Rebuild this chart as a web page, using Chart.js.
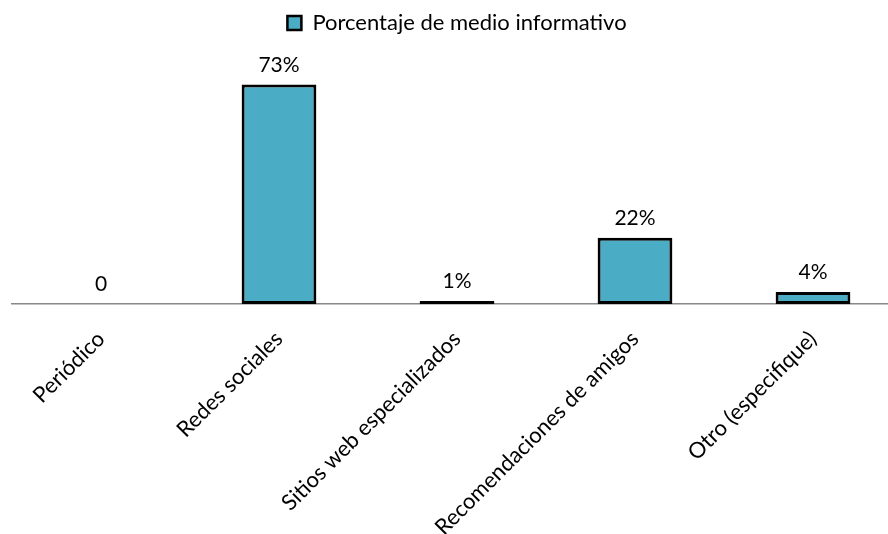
<!DOCTYPE html>
<html>
<head>
<meta charset="utf-8">
<script src="https://cdn.jsdelivr.net/npm/chart.js@4/dist/chart.umd.min.js"></script>
<style>
  html, body { margin: 0; padding: 0; background: #fff; overflow: hidden; }
  #wrap { position: relative; width: 902px; height: 534px; }
</style>
</head>
<body>
<div id="wrap"><canvas id="c"></canvas></div>
<script>
// Media used to find out about the offer
const categories = ['Periódico', 'Redes sociales', 'Sitios web especializados', 'Recomendaciones de amigos', 'Otro (especifique)'];
const seriesName = 'Porcentaje de medio informativo';
const percentages = [0, 73, 1, 22, 4];
const valueLabels = ['0', '73%', '1%', '22%', '4%'];

const FONT = "Lato, 'Open Sans', sans-serif";
const TEAL = '#4BACC6';

// Writes each value above its bar
const valueLabelPlugin = {
  id: 'valueLabels',
  afterDatasetsDraw(chart) {
    const ctx = chart.ctx;
    const meta = chart.getDatasetMeta(0);
    ctx.save();
    ctx.font = '21px ' + FONT;
    ctx.fillStyle = '#000';
    ctx.textAlign = 'center';
    ctx.textBaseline = 'alphabetic';
    meta.data.forEach((bar, i) => {
      ctx.fillText(valueLabels[i], bar.x, bar.y - 13);
    });
    ctx.restore();
  }
};

new Chart(document.getElementById('c'), {
  type: 'bar',
  data: {
    labels: categories,
    datasets: [{
      label: seriesName,
      data: percentages,
      backgroundColor: TEAL,
      borderColor: '#000',
      borderWidth: 3,
      borderSkipped: false,
      categoryPercentage: 1,
      barPercentage: 0.42
    }]
  },
  options: {
    responsive: true,
    maintainAspectRatio: false,
    animation: false,
    layout: { padding: { left: 12, right: 0, top: 6, bottom: 0 } },
    plugins: {
      legend: {
        display: true,
        position: 'top',
        labels: {
          boxWidth: 14,
          boxHeight: 14,
          padding: 6,
          color: '#000',
          font: { family: FONT, size: 22 },
          generateLabels(chart) {
            return [{
              text: seriesName,
              fillStyle: TEAL,
              strokeStyle: '#000',
              lineWidth: 2.5,
              datasetIndex: 0
            }];
          }
        }
      },
      tooltip: { enabled: false }
    },
    scales: {
      x: {
        grid: { display: false, drawTicks: false },
        border: { display: true, color: '#888', width: 1.5 },
        ticks: {
          minRotation: 45,
          maxRotation: 45,
          padding: 22,
          color: '#000',
          font: { family: FONT, size: 22 }
        },
        afterFit(scale) { scale.height = 230; }
      },
      y: {
        display: false,
        min: 0,
        max: 86.5
      }
    }
  },
  plugins: [valueLabelPlugin]
});
</script>
</body>
</html>
